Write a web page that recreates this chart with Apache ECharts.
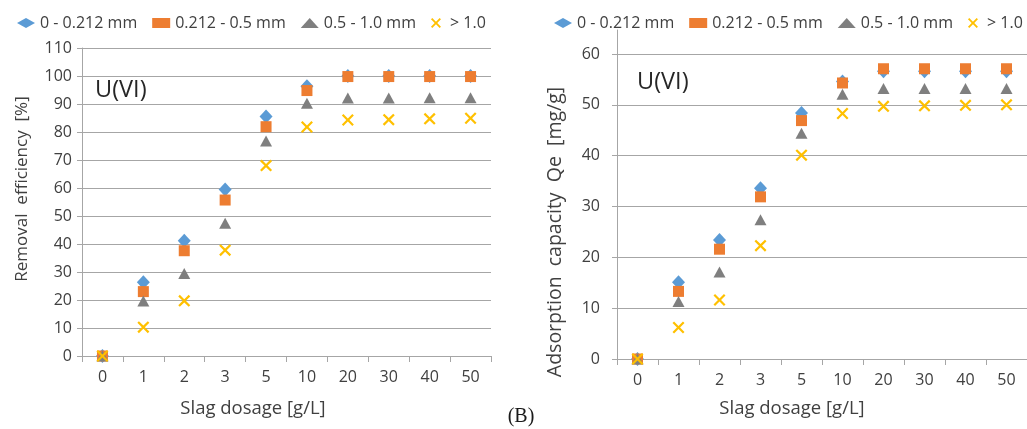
<!DOCTYPE html>
<html>
<head>
<meta charset="utf-8">
<script src="https://cdn.jsdelivr.net/npm/echarts@6/dist/echarts.min.js"></script>
<style>
html,body{margin:0;padding:0;background:#fff;}
#c{width:1027px;height:429px;}
</style>
</head>
<body>
<div id="c"></div>
<script>
// ---- data ----
const categories = ['0', '1', '2', '3', '5', '10', '20', '30', '40', '50'];
const seriesNames = ['0 - 0.212 mm', '0.212 - 0.5 mm', '0.5 - 1.0 mm', '> 1.0'];
// Removal efficiency [%]
const re_0_0212 = [0, 26.3, 41.2, 59.5, 85.5, 96.3, 100, 100, 100, 100];
const re_0212_05 = [0, 23.0, 37.6, 55.7, 81.9, 94.8, 99.8, 99.8, 99.8, 99.8];
const re_05_10 = [0, 19.6, 29.5, 47.4, 76.8, 90.3, 92.1, 92.1, 92.2, 92.2];
const re_gt10 = [0, 10.3, 19.7, 37.8, 68.0, 81.8, 84.3, 84.4, 84.7, 84.9];
// Adsorption capacity Qe [mg/g]
const qe_0_0212 = [0, 15.1, 23.4, 33.6, 48.4, 54.6, 56.6, 56.6, 56.6, 56.6];
const qe_0212_05 = [0, 13.3, 21.6, 31.9, 46.9, 54.3, 57.1, 57.1, 57.1, 57.1];
const qe_05_10 = [0, 11.3, 17.1, 27.4, 44.4, 52.1, 53.2, 53.2, 53.2, 53.2];
const qe_gt10 = [0, 6.2, 11.6, 22.3, 40.1, 48.3, 49.7, 49.8, 49.9, 50.0];
const leftTicks = {min: 0, max: 110, interval: 10};
const rightTicks = {min: 0, max: 60, interval: 10};

// ---- styles ----
const FONT = 'Open Sans';
const colors = ['#5B9BD5', '#ED7D31', '#7F7F7F', '#FFC000'];
const XPATH = 'path://M0,2.6L2.6,0L10,7.4L17.4,0L20,2.6L12.6,10L20,17.4L17.4,20L10,12.6L2.6,20L0,17.4L7.4,10Z';
const symbols = ['diamond', 'rect', 'triangle', XPATH];
const sizes = [[13, 14], [11, 11], [12, 11], [12, 12]];
const gridColor = '#A6A6A6';
const textColor = '#404040';

function mkSeries(arr, idx, gi) {
  return {
    type: 'scatter', name: seriesNames[idx],
    xAxisIndex: gi, yAxisIndex: gi,
    data: arr, symbol: symbols[idx], symbolSize: sizes[idx],
    itemStyle: {color: colors[idx], opacity: 1},
    emphasis: {disabled: true}, animation: false
  };
}

function xAx(gi) {
  return {
    type: 'category', gridIndex: gi, data: categories, boundaryGap: true,
    axisLine: {lineStyle: {color: gridColor, width: 1}},
    axisTick: {show: true, length: 6, lineStyle: {color: gridColor}},
    axisLabel: {color: textColor, fontFamily: FONT, fontSize: 16, margin: 13},
    splitLine: {show: false}
  };
}
function yAx(gi, t, margin) {
  return {
    type: 'value', gridIndex: gi, min: t.min, max: t.max, interval: t.interval,
    axisLine: {show: true, lineStyle: {color: gridColor, width: 1}},
    axisTick: {show: true, length: 5, lineStyle: {color: gridColor}},
    axisLabel: {color: textColor, fontFamily: FONT, fontSize: 16, margin: margin},
    splitLine: {show: true, lineStyle: {color: gridColor, width: 1}}
  };
}
function legendAt(left) {
  return {
    left: left, top: 10, itemWidth: 18, itemHeight: 10, itemGap: 15,
    data: seriesNames, selectedMode: false,
    textStyle: {color: textColor, fontFamily: FONT, fontSize: 16}
  };
}
function txt(x, y, text, size, rot, family, color, align) {
  return {
    type: 'text', x: x, y: y, rotation: rot || 0, silent: true,
    style: {
      text: text, fontFamily: family || FONT, fontSize: size, fill: color || textColor,
      textAlign: align || 'center', textVerticalAlign: 'middle'
    }
  };
}

const chart = echarts.init(document.getElementById('c'), null, {renderer: 'canvas'});
chart.setOption({
  animation: false,
  backgroundColor: '#fff',
  grid: [
    {left: 82, top: 48, width: 409, height: 308},
    {left: 617, top: 54, width: 410, height: 305},
    {left: 617, top: 30, width: 410, height: 329}
  ],
  xAxis: [xAx(0), xAx(1), {type: 'category', gridIndex: 2, data: categories, show: false}],
  yAxis: [
    yAx(0, leftTicks, 10),
    yAx(1, rightTicks, 17),
    {type: 'value', gridIndex: 2, min: 0, max: 1, axisLine: {show: true, lineStyle: {color: gridColor}},
     axisTick: {show: false}, axisLabel: {show: false}, splitLine: {show: false}}
  ],
  legend: [legendAt(12), legendAt(549)],
  series: [
    mkSeries(re_0_0212, 0, 0), mkSeries(re_0212_05, 1, 0), mkSeries(re_05_10, 2, 0), mkSeries(re_gt10, 3, 0),
    mkSeries(qe_0_0212, 0, 1), mkSeries(qe_0212_05, 1, 1), mkSeries(qe_05_10, 2, 1), mkSeries(qe_gt10, 3, 1)
  ],
  graphic: [
    txt(22, 189, 'Removal  efficiency  [%]', 17, Math.PI / 2),
    txt(555, 232, 'Adsorption  capacity  Qe  [mg/g]', 19.5, Math.PI / 2),
    txt(253, 409, 'Slag dosage [g/L]', 18.5),
    txt(792, 409, 'Slag dosage [g/L]', 18.5),
    txt(95, 90, 'U(VI)', 23.5, 0, FONT, '#262626', 'left'),
    txt(637, 82, 'U(VI)', 23.5, 0, FONT, '#262626', 'left'),
    txt(521, 417, '(B)', 20, 0, 'Liberation Serif', '#1a1a1a')
  ]
});
</script>
</body>
</html>
